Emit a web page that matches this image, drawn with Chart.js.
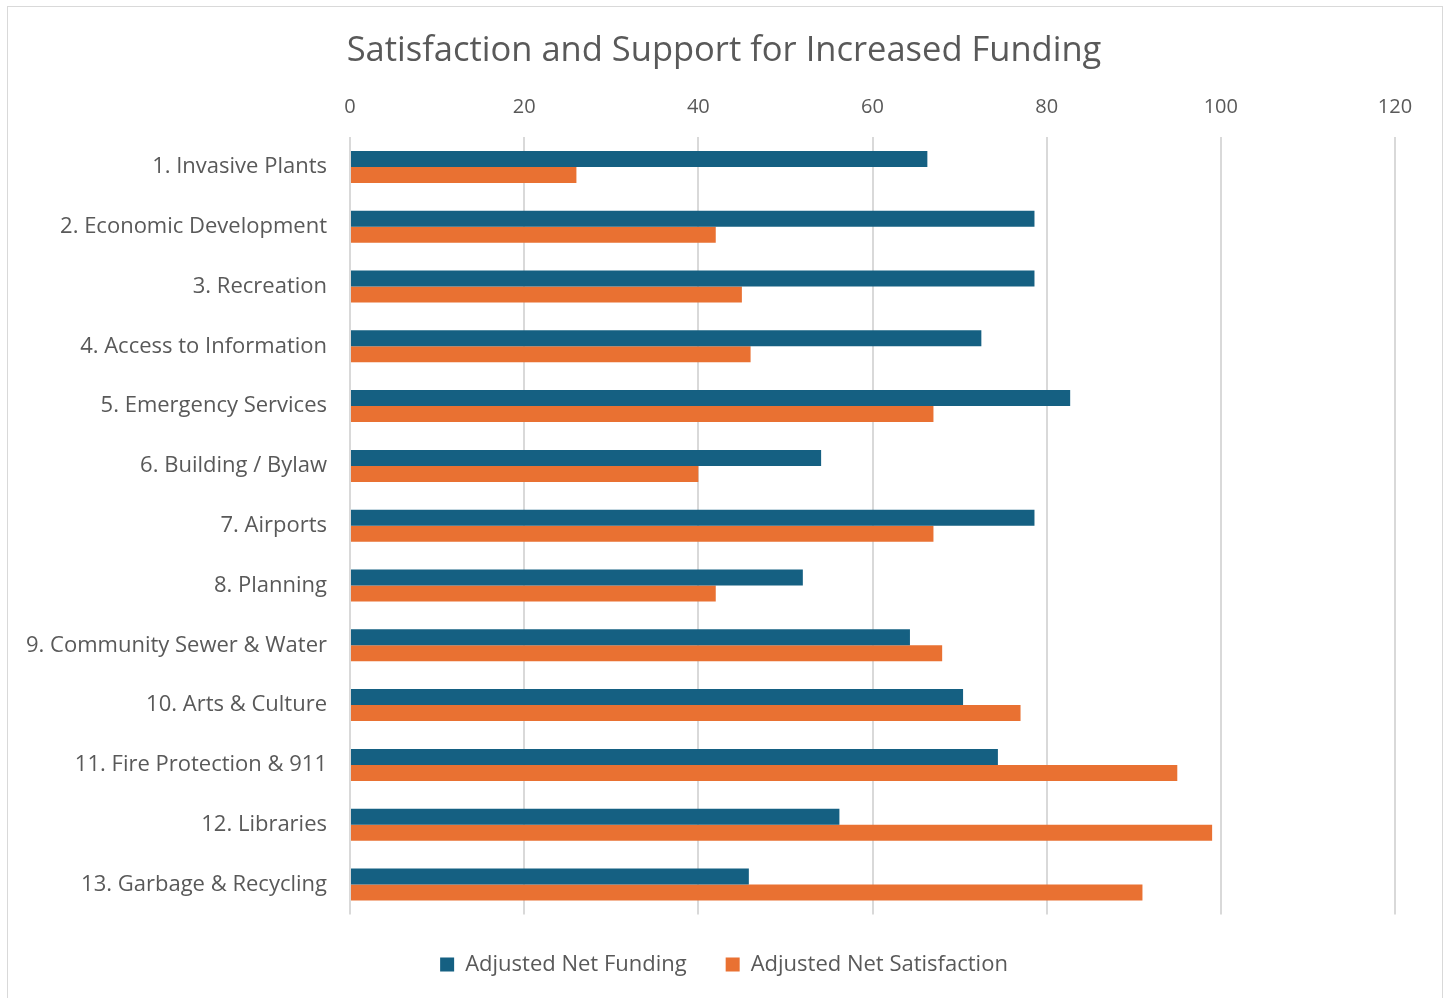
<!DOCTYPE html>
<html>
<head>
<meta charset="utf-8">
<script src="https://cdn.jsdelivr.net/npm/chart.js@4/dist/chart.umd.min.js"></script>
<style>
  html, body { margin: 0; padding: 0; background: #fff; }
  #wrap { position: absolute; left: 0; top: 0; width: 1448px; height: 998px; }
</style>
</head>
<body>
<div id="wrap"><canvas id="c" width="1448" height="998"></canvas></div>
<script>
const categories = [
  "1. Invasive Plants",
  "2. Economic Development",
  "3. Recreation",
  "4. Access to Information",
  "5. Emergency Services",
  "6. Building / Bylaw",
  "7. Airports",
  "8. Planning",
  "9. Community Sewer & Water",
  "10. Arts & Culture",
  "11. Fire Protection & 911",
  "12. Libraries",
  "13. Garbage & Recycling"
];
const fundingValues = [66.3, 78.6, 78.6, 72.5, 82.7, 54.1, 78.6, 52.0, 64.3, 70.4, 74.4, 56.2, 45.8];
const satisfactionValues = [26, 42, 45, 46, 67, 40, 67, 42, 68, 77, 95, 99, 91];
const tickValues = [0, 20, 40, 60, 80, 100, 120];
const seriesNames = ["Adjusted Net Funding", "Adjusted Net Satisfaction"];
const chartTitle = "Satisfaction and Support for Increased Funding";

const FONT = "'Open Sans', 'Liberation Sans', sans-serif";
const TEXT = "#595959";

const borderPlugin = {
  id: 'outerBorder',
  beforeDraw(chart) {
    const ctx = chart.ctx;
    ctx.save();
    ctx.fillStyle = '#ffffff';
    ctx.fillRect(0, 0, chart.width, chart.height);
    ctx.strokeStyle = '#d9d9d9';
    ctx.lineWidth = 1;
    ctx.strokeRect(7.5, 6.5, 1435, 995);
    ctx.restore();
  }
};

new Chart(document.getElementById('c'), {
  type: 'bar',
  data: {
    labels: categories,
    datasets: [
      {
        label: seriesNames[0],
        data: fundingValues,
        backgroundColor: '#156082',
        borderWidth: 0,
        categoryPercentage: 0.535,
        barPercentage: 1.0
      },
      {
        label: seriesNames[1],
        data: satisfactionValues,
        backgroundColor: '#E97132',
        borderWidth: 0,
        categoryPercentage: 0.535,
        barPercentage: 1.0
      }
    ]
  },
  plugins: [borderPlugin],
  options: {
    indexAxis: 'y',
    responsive: false,
    animation: false,
    devicePixelRatio: 1,
    layout: { padding: { left: 0, right: 0, top: 0, bottom: 12.6 } },
    scales: {
      x: {
        position: 'top',
        min: 0,
        max: 120,
        afterBuildTicks(scale) {
          scale.ticks = tickValues.map(v => ({ value: v }));
        },
        afterFit(scale) { scale.height = 58.6; },
        grid: {
          color: '#d9d9d9',
          lineWidth: 2,
          drawTicks: false
        },
        border: { display: false },
        ticks: {
          color: TEXT,
          font: { family: FONT, size: 20 },
          padding: 18,
          maxRotation: 0
        }
      },
      y: {
        afterFit(scale) { scale.width = 350; },
        grid: { display: false, drawTicks: false },
        border: { display: false },
        ticks: {
          color: TEXT,
          font: { family: FONT, size: 22 },
          padding: 23,
          autoSkip: false
        }
      },
      yRight: {
        type: 'category',
        labels: categories,
        position: 'right',
        afterFit(scale) { scale.width = 53; },
        grid: { display: false, drawTicks: false },
        border: { display: false },
        ticks: { display: false }
      }
    },
    plugins: {
      title: {
        display: true,
        text: chartTitle,
        color: TEXT,
        font: { family: FONT, size: 34.5, weight: 'normal' },
        padding: { top: 30.9, bottom: 6.1 }
      },
      legend: {
        position: 'bottom',
        labels: {
          color: TEXT,
          font: { family: FONT, size: 22 },
          boxWidth: 14,
          boxHeight: 14,
          padding: 39
        }
      },
      tooltip: { enabled: false }
    }
  }
});
</script>
</body>
</html>
